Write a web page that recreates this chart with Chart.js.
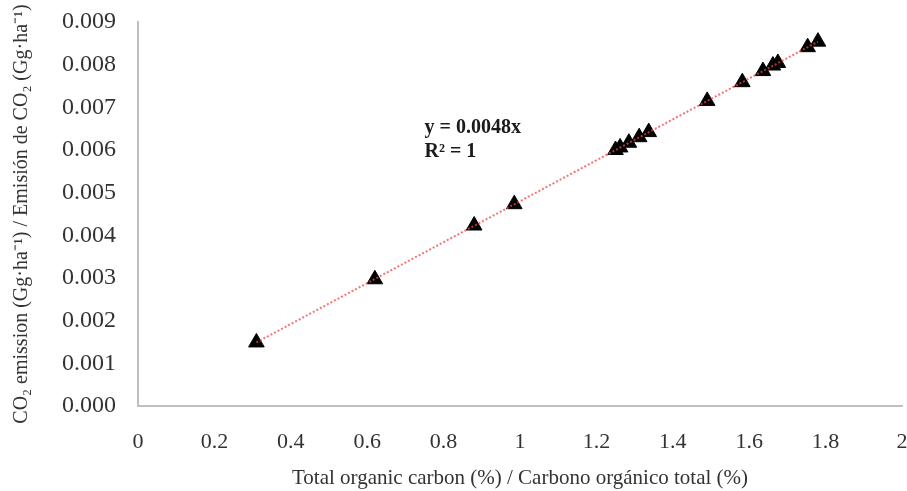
<!DOCTYPE html>
<html>
<head>
<meta charset="utf-8">
<script src="https://cdn.jsdelivr.net/npm/chart.js@4"></script>
<style>
    html, body { margin: 0; padding: 0; background: #ffffff; }
    #wrap { width: 907px; height: 491px; position: relative; }
</style>
</head>
<body>
<div id="wrap"><canvas id="chart"></canvas></div>
<script>
// Data
const carbonPct = [0.31, 0.62, 0.88, 0.985, 1.25, 1.262, 1.285, 1.312, 1.337, 1.49, 1.582, 1.636, 1.662, 1.675, 1.753, 1.78];
const co2Emission = [0.00149, 0.00297, 0.00423, 0.00473, 0.00600, 0.00606, 0.00617, 0.00630, 0.00642, 0.00715, 0.00759, 0.00785, 0.00798, 0.00804, 0.00841, 0.00854];
const trendX = [0.31, 1.78];
const trendY = [0.00149, 0.00854];
const equationLines = ['y = 0.0048x', 'R\u00b2 = 1'];
const equationAt = { x: 0.75, y: 0.00652 };

const xTitle = 'Total organic carbon (%) / Carbono orgánico total (%)';
const yTitle = 'CO\u2082 emission (Gg\u00b7ha\u207b\u00b9) / Emisión de CO\u2082 (Gg\u00b7ha\u207b\u00b9)';

const textColor = '#333333';
const axisColor = '#bfbfbf';

// Trendline equation drawn in data coordinates
const equationPlugin = {
    id: 'equation',
    afterDatasetsDraw(chart) {
        const ctx = chart.ctx;
        const px = chart.scales.x.getPixelForValue(equationAt.x);
        const py = chart.scales.y.getPixelForValue(equationAt.y);
        ctx.save();
        ctx.font = 'bold 20px "Liberation Serif"';
        ctx.fillStyle = '#1a1a1a';
        ctx.textAlign = 'left';
        ctx.textBaseline = 'middle';
        equationLines.forEach((line, i) => ctx.fillText(line, px, py + i * 24));
        ctx.restore();
    }
};

new Chart(document.getElementById('chart'), {
    type: 'scatter',
    data: {
        datasets: [{
            type: 'line',
            label: 'Trend',
            data: trendX.map((x, i) => ({ x: x, y: trendY[i] })),
            borderColor: 'rgba(240, 70, 70, 0.75)',
            borderWidth: 2,
            borderDash: [2, 2],
            pointRadius: 0,
            fill: false,
            order: 0
        }, {
            label: 'Data',
            data: carbonPct.map((x, i) => ({ x: x, y: co2Emission[i] })),
            pointStyle: 'triangle',
            pointRadius: 9,
            pointHoverRadius: 9,
            backgroundColor: '#000000',
            borderColor: '#000000',
            borderWidth: 1,
            order: 1
        }]
    },
    options: {
        responsive: true,
        maintainAspectRatio: false,
        animation: false,
        layout: {
            autoPadding: false,
            padding: { top: 22, right: 5, left: 0, bottom: 0 }
        },
        plugins: {
            legend: { display: false },
            tooltip: { enabled: false }
        },
        scales: {
            x: {
                type: 'linear',
                min: 0,
                max: 2,
                grid: { display: false, drawTicks: false },
                border: { display: true, color: axisColor, width: 2 },
                ticks: {
                    stepSize: 0.2,
                    padding: 23,
                    color: textColor,
                    maxRotation: 0,
                    autoSkip: false,
                    font: { family: '"Liberation Serif"', size: 22 },
                    callback: v => parseFloat(v.toFixed(1)).toString()
                },
                title: {
                    display: true,
                    text: xTitle,
                    color: textColor,
                    padding: { top: 0, bottom: 0 },
                    font: { family: '"Liberation Serif"', size: 21 }
                },
                // tick padding would otherwise push the plot area in
                afterFit: scale => {
                    scale.height = 85;
                    scale.paddingLeft = 0;
                    scale.paddingRight = 0;
                }
            },
            y: {
                type: 'linear',
                min: 0,
                max: 0.009,
                grid: { display: false, drawTicks: false },
                border: { display: true, color: axisColor, width: 2 },
                ticks: {
                    stepSize: 0.001,
                    padding: 22,
                    color: textColor,
                    font: { family: '"Liberation Serif"', size: 24 },
                    callback: v => v.toFixed(3)
                },
                title: {
                    display: true,
                    text: yTitle,
                    color: textColor,
                    padding: { top: 10, bottom: 0 },
                    font: { family: '"Liberation Serif"', size: 20 }
                },
                afterFit: scale => {
                    scale.width = 138;
                    scale.paddingTop = 0;
                    scale.paddingBottom = 0;
                }
            }
        }
    },
    plugins: [equationPlugin]
});
</script>
</body>
</html>
